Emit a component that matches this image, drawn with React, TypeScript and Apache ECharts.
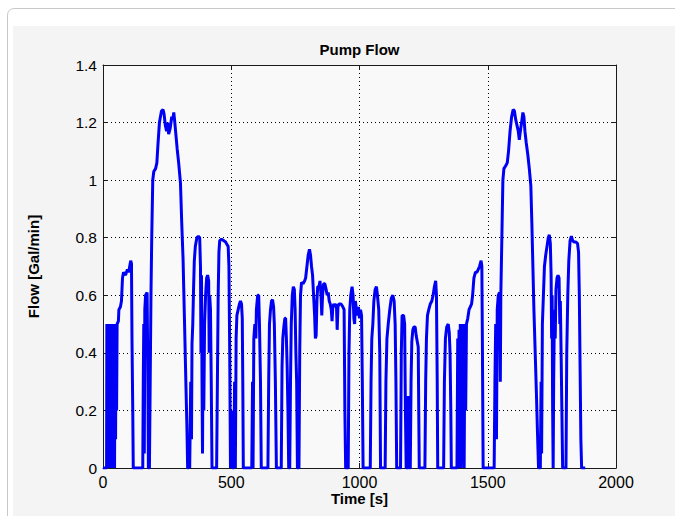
import React, { useEffect, useRef } from "react";
import * as echarts from "echarts";

const chartTitle = "Pump Flow";
const xAxisName = "Time [s]";
const yAxisName = "Flow [Gal/min]";

const xTicks = [0, 500, 1000, 1500, 2000];
const yTicks = [0, 0.2, 0.4, 0.6, 0.8, 1, 1.2, 1.4];

const timeS = [
  0, 14, 15, 17, 19, 21, 23, 25, 27, 29, 31, 33, 35, 37, 39, 41, 43, 45, 47, 49, 51, 53, 55,
  60, 62, 68, 72, 76, 80, 88, 95, 100, 104, 108, 111, 113, 116, 118,
  155, 157, 159, 161, 163, 166, 172, 175, 177, 181, 184, 187, 190, 194, 198, 205, 210, 214, 220, 228, 234, 238, 243, 248, 252, 256, 262, 268, 272, 276, 280, 284, 289, 295, 302, 307, 312, 318, 323, 327, 330,
  334, 336, 338, 342, 345, 347, 350, 353, 356, 360, 366, 372, 377, 380, 382, 384, 386, 388, 390, 393, 396, 400, 404, 408, 412, 414, 416, 419, 422, 425,
  443, 446, 449, 452, 455, 462, 470, 478, 484, 488, 491, 494, 497, 503, 505, 510, 513, 516, 519, 522, 527, 532, 536, 540, 543, 545, 547,
  580, 583, 585, 588, 592, 596, 598, 603, 607, 610, 614, 617,
  643, 646, 649, 653, 657, 661, 665, 668, 672, 676,
  695, 698, 701, 705, 709, 712, 715, 718, 721, 724,
  728, 731, 734, 738, 742, 746, 749, 752, 755, 758,
  764, 767, 770, 774, 780, 786, 790, 795, 800, 805, 809, 813, 817, 821, 825, 828, 831, 834, 837, 842, 846, 850, 853, 856, 860, 865, 870, 874, 878, 882, 886, 890, 893, 896, 900, 905, 910, 913, 916, 920, 928, 935, 940, 943, 946,
  956, 959, 962, 966, 971, 975, 978, 981, 984, 988, 992, 996, 1000, 1004, 1008, 1011, 1014,
  1042, 1045, 1048, 1052, 1056, 1061, 1066, 1070, 1075, 1079, 1082,
  1100, 1103, 1107, 1112, 1118, 1124, 1130, 1135, 1139, 1142, 1145,
  1160, 1163, 1166, 1172, 1176, 1179, 1182, 1188, 1190, 1192,
  1198, 1201, 1204, 1208, 1212, 1217, 1221, 1225, 1229, 1231, 1233,
  1255, 1258, 1261, 1265, 1270, 1276, 1282, 1287, 1292, 1297, 1300, 1303, 1305,
  1328, 1331, 1335, 1340, 1346, 1350, 1353, 1356, 1358,
  1380, 1383, 1385, 1388, 1390, 1393, 1396, 1399, 1402, 1405, 1408, 1411, 1414, 1417, 1422, 1427, 1432, 1437, 1441, 1446, 1452, 1458, 1463, 1468, 1474, 1477, 1479, 1482,
  1525, 1528, 1531, 1534, 1537, 1541, 1546, 1549, 1551, 1555, 1559, 1563, 1570, 1576, 1581, 1587, 1593, 1599, 1604, 1609, 1614, 1619, 1623, 1627, 1632, 1637, 1641, 1645, 1650, 1656, 1662, 1668, 1672, 1676, 1680, 1685, 1690, 1694, 1698,
  1705, 1708, 1710, 1713, 1717, 1721, 1726, 1731, 1736, 1740, 1744, 1747, 1749, 1751, 1753, 1755, 1757, 1760, 1763, 1766, 1770, 1774, 1778, 1781, 1783, 1786, 1789, 1792,
  1805, 1808, 1812, 1816, 1821, 1826, 1831, 1836, 1844, 1850, 1854, 1857, 1860, 1863, 1866, 1880,
];

const flowGpm = [
  0, 0, 0.5, 0, 0.5, 0, 0.5, 0.02, 0.5, 0, 0.5, 0, 0.5, 0.05, 0.5, 0, 0.5, 0, 0.5, 0.1, 0.5, 0.2, 0.5,
  0.51, 0.55, 0.56, 0.58, 0.66, 0.68, 0.67, 0.69, 0.68, 0.7, 0.72, 0.71, 0.45, 0.2, 0,
  0, 0.3, 0.5, 0.05, 0.55, 0.6, 0.61, 0.3, 0, 0, 0.3, 0.6, 0.8, 1.0, 1.03, 1.04, 1.06, 1.12, 1.2, 1.24, 1.245, 1.23, 1.19, 1.17, 1.2, 1.16, 1.18, 1.22, 1.21, 1.235, 1.2, 1.16, 1.11, 1.06, 0.99, 0.85, 0.73, 0.5, 0.3, 0.15, 0,
  0, 0.1, 0, 0.3, 0.1, 0.43, 0.5, 0.62, 0.72, 0.77, 0.8, 0.805, 0.8, 0.7, 0.4, 0.67, 0.3, 0.05, 0.45, 0.2, 0.5, 0.6, 0.66, 0.67, 0.65, 0.4, 0.6, 0.55, 0.3, 0,
  0, 0.3, 0.6, 0.75, 0.79, 0.795, 0.79, 0.785, 0.775, 0.77, 0.7, 0.4, 0, 0.2, 0, 0, 0.3, 0, 0.45, 0.53, 0.55, 0.57, 0.58, 0.57, 0.52, 0.3, 0,
  0, 0.3, 0, 0.45, 0.5, 0.45, 0.55, 0.6, 0.6, 0.5, 0.3, 0,
  0, 0.3, 0.5, 0.55, 0.58, 0.585, 0.56, 0.5, 0.3, 0,
  0, 0.35, 0.45, 0.49, 0.52, 0.52, 0.45, 0.35, 0.2, 0,
  0, 0.3, 0.5, 0.6, 0.63, 0.62, 0.55, 0.4, 0.3, 0,
  0, 0.4, 0.6, 0.645, 0.64, 0.65, 0.66, 0.7, 0.74, 0.76, 0.74, 0.7, 0.67, 0.6, 0.53, 0.45, 0.46, 0.58, 0.63, 0.63, 0.65, 0.6, 0.53, 0.6, 0.64, 0.64, 0.62, 0.6, 0.61, 0.58, 0.57, 0.55, 0.51, 0.56, 0.57, 0.56, 0.57, 0.48, 0.56, 0.57, 0.57, 0.56, 0.55, 0.2, 0,
  0, 0.4, 0.55, 0.6, 0.63, 0.6, 0.52, 0.5, 0.58, 0.55, 0.53, 0.56, 0.52, 0.55, 0.53, 0.3, 0,
  0, 0.3, 0.45, 0.5, 0.58, 0.62, 0.63, 0.6, 0.55, 0.4, 0,
  0, 0.3, 0.45, 0.5, 0.55, 0.59, 0.6, 0.58, 0.5, 0.3, 0,
  0, 0.4, 0.53, 0.53, 0.5, 0.2, 0, 0, 0.25, 0,
  0, 0.3, 0.44, 0.48, 0.49, 0.49, 0.46, 0.44, 0.42, 0.2, 0,
  0, 0.3, 0.45, 0.53, 0.55, 0.57, 0.58, 0.6, 0.63, 0.65, 0.6, 0.3, 0,
  0, 0.3, 0.45, 0.49, 0.5, 0.47, 0.4, 0.2, 0,
  0, 0.45, 0, 0.48, 0.05, 0.5, 0, 0.5, 0.1, 0.5, 0, 0.5, 0.2, 0.5, 0.52, 0.55, 0.56, 0.57, 0.6, 0.66, 0.68, 0.68, 0.69, 0.7, 0.72, 0.7, 0.45, 0,
  0, 0.3, 0.5, 0.1, 0.55, 0.6, 0.61, 0.3, 0.6, 0.8, 1.0, 1.04, 1.05, 1.06, 1.1, 1.17, 1.22, 1.245, 1.24, 1.21, 1.19, 1.17, 1.14, 1.17, 1.2, 1.235, 1.22, 1.17, 1.13, 1.09, 1.04, 0.98, 0.85, 0.7, 0.55, 0.4, 0.25, 0.12, 0,
  0, 0.3, 0.05, 0.5, 0.6, 0.7, 0.74, 0.77, 0.8, 0.81, 0.78, 0.67, 0.45, 0.6, 0.2, 0, 0.3, 0.55, 0.45, 0.62, 0.66, 0.67, 0.66, 0.5, 0.58, 0.4, 0.2, 0,
  0, 0.4, 0.6, 0.72, 0.79, 0.805, 0.79, 0.785, 0.785, 0.78, 0.75, 0.6, 0.35, 0.1, 0, 0,
];

const FONT = "'Liberation Sans', Arial, Helvetica, sans-serif";
const AXIS_COLOR = "#1a1a1a";

export default function App() {
  const ref = useRef<HTMLDivElement | null>(null);

  useEffect(() => {
    if (!ref.current) return;
    const chart = echarts.init(ref.current, undefined, { renderer: "svg" });
    const data = timeS.map((t, i) => [t, flowGpm[i]]);
    const gridLeft = 103;
    const gridTop = 65;
    const gridW = 513;
    const gridH = 403;

    const baseX = {
      type: "value" as const,
      min: xTicks[0],
      max: xTicks[xTicks.length - 1],
      interval: 500,
    };
    const baseY = {
      type: "value" as const,
      min: yTicks[0],
      max: yTicks[yTicks.length - 1],
      interval: 0.2,
    };
    const tick = { show: true, inside: true, length: 5, lineStyle: { color: AXIS_COLOR, width: 1 } };
    const line = { show: true, onZero: false, lineStyle: { color: AXIS_COLOR, width: 1 } };

    chart.setOption({
      animation: false,
      backgroundColor: "transparent",
      grid: {
        left: gridLeft,
        top: gridTop,
        width: gridW,
        height: gridH,
        show: true,
        backgroundColor: "#f9f9f9",
        borderWidth: 0,
        containLabel: false,
      },
      graphic: [
        {
          type: "text",
          x: gridLeft + gridW / 2,
          y: 49,
          style: {
            text: chartTitle,
            fill: "#000",
            font: `bold 15px ${FONT}`,
            textAlign: "center",
            textVerticalAlign: "middle",
          },
        },
        {
          type: "text",
          x: gridLeft + gridW / 2,
          y: 498,
          style: {
            text: xAxisName,
            fill: "#000",
            font: `bold 15px ${FONT}`,
            textAlign: "center",
            textVerticalAlign: "middle",
          },
        },
        {
          type: "text",
          x: 33,
          y: gridTop + gridH / 2,
          rotation: Math.PI / 2,
          style: {
            text: yAxisName,
            fill: "#000",
            font: `bold 15px ${FONT}`,
            textAlign: "center",
            textVerticalAlign: "middle",
          },
        },
      ],
      xAxis: [
        {
          ...baseX,
          position: "bottom",
          axisLine: line,
          axisTick: tick,
          axisLabel: {
            color: "#000",
            fontSize: 16,
            fontFamily: FONT,
            margin: 6,
            formatter: (v: number) => String(v),
          },
          splitLine: { show: true, lineStyle: { color: "#000", width: 1, type: [1, 3] } },
        },
        {
          ...baseX,
          position: "top",
          axisLine: line,
          axisTick: tick,
          axisLabel: { show: false },
          splitLine: { show: false },
        },
      ],
      yAxis: [
        {
          ...baseY,
          position: "left",
          axisLine: line,
          axisTick: tick,
          axisLabel: {
            color: "#000",
            fontSize: 15.5,
            fontFamily: FONT,
            margin: 6,
            formatter: (v: number) => String(Math.round(v * 10) / 10),
          },
          splitLine: { show: true, lineStyle: { color: "#000", width: 1, type: [1, 3] } },
        },
        {
          ...baseY,
          position: "right",
          axisLine: line,
          axisTick: tick,
          axisLabel: { show: false },
          splitLine: { show: false },
        },
      ],
      series: [
        {
          type: "line",
          xAxisIndex: 0,
          yAxisIndex: 0,
          data,
          showSymbol: false,
          symbol: "none",
          clip: true,
          lineStyle: { color: "#0000f5", width: 3 },
          z: 3,
        },
      ],
    });
    return () => chart.dispose();
  }, []);

  return (
    <div style={{ position: "fixed", left: 0, top: 0, width: 675, height: 516, background: "#fff", overflow: "hidden" }}>
      <div
        style={{
          position: "absolute",
          left: 7,
          top: 8,
          width: 720,
          height: 600,
          border: "1px solid #c9c9c9",
          borderRadius: 7,
          background: "#fff",
        }}
      />
      <div style={{ position: "absolute", left: 13, top: 26, right: 0, bottom: 0, background: "#f4f4f4" }} />
      <div ref={ref} style={{ position: "absolute", left: 0, top: 0, width: 675, height: 516 }} />
    </div>
  );
}
